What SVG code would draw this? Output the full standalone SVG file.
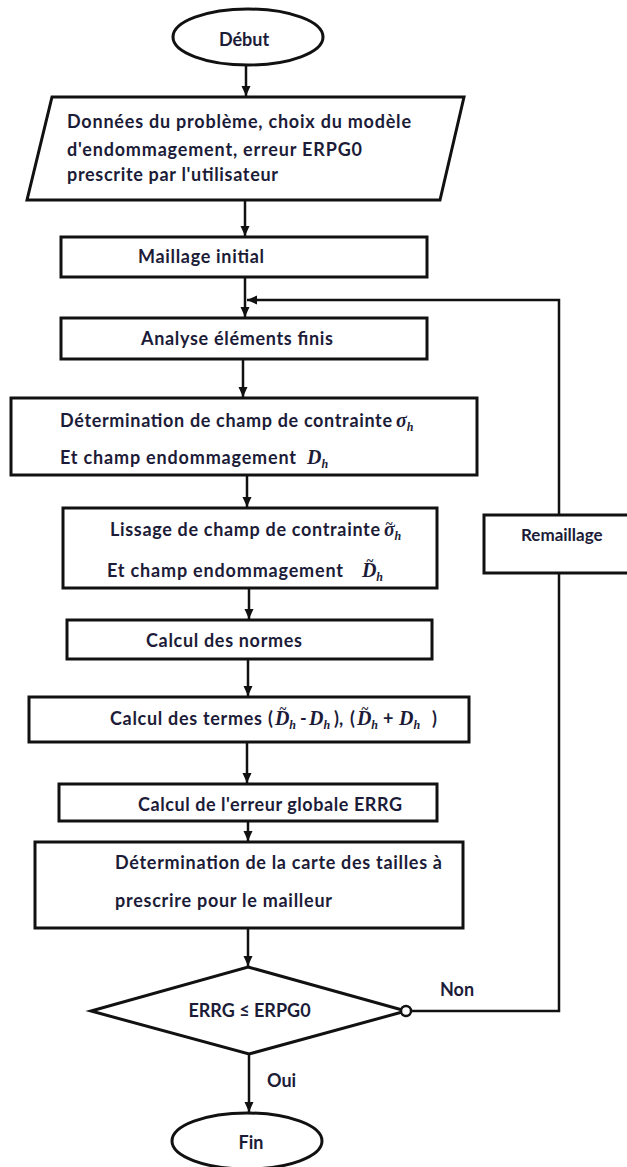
<svg xmlns="http://www.w3.org/2000/svg" width="627" height="1167" viewBox="0 0 627 1167">
<defs>
<style>
.box{fill:#fff;stroke:#111;stroke-width:3}
.t{font-family:Lato,"Liberation Sans",sans-serif;font-weight:700;font-size:18px;fill:#1c1c38}
.m{font-family:"Liberation Serif",serif;font-weight:700;font-style:italic;font-size:20px;fill:#1c1c38}
.s{font-family:"Liberation Serif",serif;font-weight:700;font-style:italic;font-size:12px;fill:#1c1c38}
.tl{font-family:"Liberation Serif",serif;font-weight:700;font-style:normal;font-size:13px;fill:#1c1c38}
.c{fill:none;stroke:#111;stroke-width:2.5}
</style>
<marker id="ah" markerUnits="userSpaceOnUse" markerWidth="10" markerHeight="10" viewBox="0 0 10 10" refX="10" refY="5" orient="auto">
<path d="M0,0.5 L10,5 L0,9.5 Z" fill="#111"/>
</marker>
</defs>
<rect width="627" height="1167" fill="#fff"/>
<g id="connectors">
<line class="c" x1="246" y1="65" x2="246" y2="96" marker-end="url(#ah)"/>
<line class="c" x1="245" y1="200" x2="245" y2="236" marker-end="url(#ah)"/>
<line class="c" x1="245" y1="277" x2="245" y2="317" marker-end="url(#ah)"/>
<polyline class="c" points="559,514 559,300 247,300" marker-end="url(#ah)"/>
<line class="c" x1="243" y1="359" x2="243" y2="397" marker-end="url(#ah)"/>
<line class="c" x1="247" y1="475" x2="247" y2="507" marker-end="url(#ah)"/>
<line class="c" x1="249" y1="588" x2="249" y2="619" marker-end="url(#ah)"/>
<line class="c" x1="248" y1="659" x2="248" y2="696" marker-end="url(#ah)"/>
<line class="c" x1="247" y1="742" x2="247" y2="783" marker-end="url(#ah)"/>
<line class="c" x1="248" y1="821" x2="248" y2="841" marker-end="url(#ah)"/>
<line class="c" x1="248" y1="928" x2="248" y2="966" marker-end="url(#ah)"/>
<polyline class="c" points="411,1011 559,1011 559,573"/>
<line class="c" x1="249" y1="1054" x2="249" y2="1112" marker-end="url(#ah)"/>
<text class="t" x="440" y="996">Non</text>
<text class="t" x="267" y="1087">Oui</text>
</g>
<g id="debut">
<ellipse class="box" cx="248" cy="37" rx="75" ry="28"/>
<text class="t" x="244" y="46" text-anchor="middle">Début</text>
</g>
<g id="donnees">
<polygon class="box" points="52,97 464,97 440,200 27,200"/>
<text class="t" x="67" y="128" textLength="344">Données du problème, choix du modèle</text>
<text class="t" x="67" y="156" textLength="295">d'endommagement, erreur ERPG0</text>
<text class="t" x="67" y="181" textLength="211">prescrite par l'utilisateur</text>
</g>
<g id="maillage">
<rect class="box" x="61" y="237" width="366" height="40"/>
<text class="t" x="138" y="263" textLength="126">Maillage initial</text>
</g>
<g id="analyse">
<rect class="box" x="61" y="318" width="366" height="41"/>
<text class="t" x="141" y="345" textLength="192">Analyse éléments finis</text>
</g>
<g id="determination">
<rect class="box" x="11" y="398" width="466" height="77"/>
<text class="t" x="60" y="427" textLength="332">Détermination de champ de contrainte</text>
<text class="m" x="396" y="427">σ<tspan class="s" dy="4">h</tspan></text>
<text class="t" x="60" y="464" textLength="236">Et champ endommagement</text>
<text class="m" x="307" y="464">D<tspan class="s" dy="4">h</tspan></text>
</g>
<g id="lissage">
<rect class="box" x="63" y="508" width="374" height="80"/>
<text class="t" x="110" y="536" textLength="270">Lissage de champ de contrainte</text>
<text class="m" x="384" y="536">σ<tspan class="tl" dx="-9" dy="-8">~</tspan><tspan class="s" dx="2" dy="12">h</tspan></text>
<text class="t" x="107" y="577" textLength="236">Et champ endommagement</text>
<text class="m" x="362" y="577">D<tspan class="tl" dx="-10" dy="-12">~</tspan><tspan class="s" dx="3" dy="16">h</tspan></text>
</g>
<g id="remaillage">
<rect class="box" x="484" y="515" width="160" height="58"/>
<text class="t" x="521" y="541" style="font-size:17px">Remaillage</text>
</g>
<g id="normes">
<rect class="box" x="67" y="620" width="365" height="39"/>
<text class="t" x="146" y="647" textLength="156">Calcul des normes</text>
</g>
<g id="termes">
<rect class="box" x="29" y="697" width="440" height="45"/>
<text class="t" x="110" y="725" textLength="152">Calcul des termes</text>
<text class="t" x="268" y="725">(</text>
<text class="m" x="275" y="725">D<tspan class="tl" dx="-10" dy="-12">~</tspan><tspan class="s" dx="3" dy="16">h</tspan></text>
<text class="t" x="300" y="725">-</text>
<text class="m" x="309" y="725">D<tspan class="s" dy="4">h</tspan></text>
<text class="t" x="334" y="725">),</text>
<text class="t" x="350" y="725">(</text>
<text class="m" x="357" y="725">D<tspan class="tl" dx="-10" dy="-12">~</tspan><tspan class="s" dx="3" dy="16">h</tspan></text>
<text class="t" x="383" y="725">+</text>
<text class="m" x="399" y="725">D<tspan class="s" dy="4">h</tspan></text>
<text class="t" x="432" y="725">)</text>
</g>
<g id="erreur">
<rect class="box" x="59" y="784" width="378" height="37"/>
<text class="t" x="138" y="811" textLength="264">Calcul de l'erreur globale ERRG</text>
</g>
<g id="carte">
<rect class="box" x="35" y="842" width="428" height="86"/>
<text class="t" x="115" y="869" textLength="327">Détermination de la carte des tailles à</text>
<text class="t" x="115" y="907" textLength="217">prescrire pour le mailleur</text>
</g>
<g id="test">
<polygon class="box" points="248,967 406,1011 249,1054 91,1011"/>
<circle cx="406" cy="1011" r="5" fill="#fff" stroke="#111" stroke-width="2.5"/>
<text class="t" x="249.5" y="1017" text-anchor="middle">ERRG ≤ ERPG0</text>
</g>
<g id="fin">
<ellipse class="box" cx="247" cy="1141" rx="75" ry="28"/>
<text class="t" x="251" y="1149" text-anchor="middle">Fin</text>
</g>
</svg>
